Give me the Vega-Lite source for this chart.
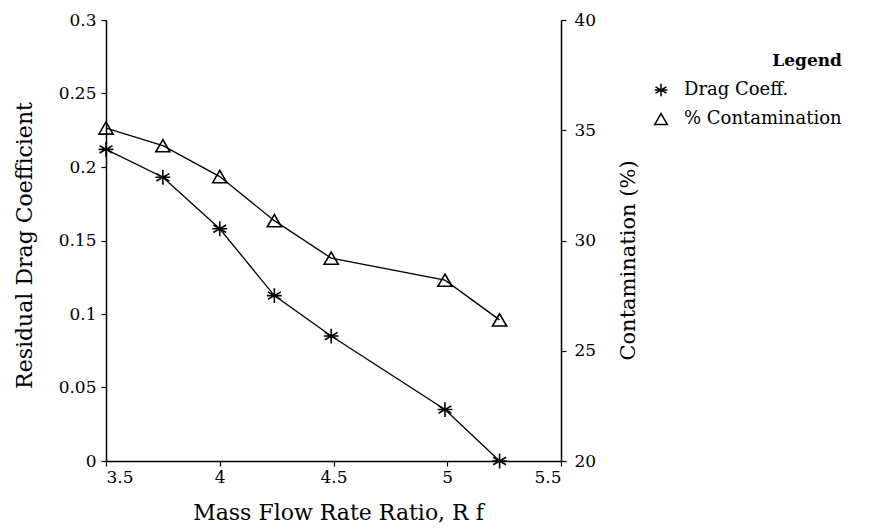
{
  "$schema": "https://vega.github.io/schema/vega-lite/v6.json",
  "autosize": "none",
  "width": 455,
  "height": 441,
  "padding": {"left": 106, "top": 20, "right": 312, "bottom": 71},
  "background": "white",
  "config": {
    "view": {"stroke": null},
    "font": "DejaVu Serif",
    "axis": {
      "grid": false,
      "domainColor": "black",
      "domainWidth": 1.5,
      "tickColor": "black",
      "tickWidth": 1.2,
      "tickSize": 5,
      "labelColor": "black",
      "labelFont": "DejaVu Serif",
      "labelFontSize": 17,
      "titleColor": "black",
      "titleFont": "DejaVu Serif",
      "titleFontSize": 21,
      "titleFontWeight": "normal"
    },
    "legend": {
      "labelFont": "DejaVu Serif",
      "labelFontSize": 18,
      "labelColor": "black",
      "titleFont": "DejaVu Serif",
      "titleFontSize": 17,
      "titleColor": "black",
      "titleFontWeight": "bold"
    }
  },
  "datasets": {
    "pts": [
      {"rf": 3.5, "drag": 0.212, "contam": 35.1, "s1": "Drag Coeff.", "s2": "% Contamination"},
      {"rf": 3.75, "drag": 0.193, "contam": 34.3, "s1": "Drag Coeff.", "s2": "% Contamination"},
      {"rf": 4.0, "drag": 0.158, "contam": 32.9, "s1": "Drag Coeff.", "s2": "% Contamination"},
      {"rf": 4.24, "drag": 0.1125, "contam": 30.9, "s1": "Drag Coeff.", "s2": "% Contamination"},
      {"rf": 4.49, "drag": 0.085, "contam": 29.2, "s1": "Drag Coeff.", "s2": "% Contamination"},
      {"rf": 4.99, "drag": 0.035, "contam": 28.2, "s1": "Drag Coeff.", "s2": "% Contamination"},
      {"rf": 5.23, "drag": 0.0, "contam": 26.4, "s1": "Drag Coeff.", "s2": "% Contamination"}
    ]
  },
  "data": {"name": "pts"},
  "encoding": {
    "x": {
      "field": "rf",
      "type": "quantitative",
      "scale": {"domain": [3.5, 5.5], "nice": false, "zero": false},
      "axis": {
        "values": [3.5, 4, 4.5, 5, 5.5],
        "format": "~g",
        "title": "Mass Flow Rate Ratio,  R f",
        "titleFontSize": 22,
        "titleX": 232,
        "titleY": 51,
        "titleAlign": "center",
        "titleBaseline": "middle",
        "labelPadding": 3
      }
    }
  },
  "layer": [
    {
      "layer": [
        {
          "mark": {"type": "line", "color": "black", "strokeWidth": 1.3},
          "encoding": {
            "y": {
              "field": "drag",
              "type": "quantitative",
              "scale": {"domain": [0, 0.3], "nice": false},
              "axis": {
                "orient": "left",
                "values": [0, 0.05, 0.1, 0.15, 0.2, 0.25, 0.3],
                "format": "~g",
                "title": "Residual Drag Coefficient",
                "titleFontSize": 22,
                "titleX": -82,
                "titleY": 225,
                "titleAngle": 270,
                "titleAlign": "center",
                "titleBaseline": "middle",
                "labelPadding": 5
              }
            }
          }
        },
        {
          "mark": {"type": "point", "filled": false, "stroke": "black", "strokeWidth": 1.6, "size": 220, "opacity": 1},
          "encoding": {
            "y": {"field": "drag", "type": "quantitative"},
            "shape": {
              "field": "s1",
              "type": "nominal",
              "scale": {
                "domain": ["Drag Coeff.", "% Contamination"],
                "range": ["M0,-1L0,1M-0.87,-0.5L0.87,0.5M-0.87,0.5L0.87,-0.5M-1,0L1,0", "triangle-up"]
              },
              "legend": {
                "title": "Legend",
                "orient": "none",
                "legendX": 546,
                "legendY": 33,
                "titleAnchor": "end",
                "padding": 0,
                "rowPadding": 10,
                "labelOffset": 14,
                "titlePadding": 11,
                "symbolStrokeColor": "black",
                "symbolStrokeWidth": 1.5,
                "symbolFillColor": "transparent",
                "symbolSize": 160
              }
            }
          }
        }
      ]
    },
    {
      "layer": [
        {
          "mark": {"type": "line", "color": "black", "strokeWidth": 1.3},
          "encoding": {
            "y": {
              "field": "contam",
              "type": "quantitative",
              "scale": {"domain": [20, 40], "nice": false, "zero": false},
              "axis": {
                "orient": "right",
                "values": [20, 25, 30, 35, 40],
                "title": "Contamination (%)",
                "titleX": 67,
                "titleY": 240,
                "titleAngle": 270,
                "titleAlign": "center",
                "titleBaseline": "middle",
                "labelPadding": 8
              }
            }
          }
        },
        {
          "mark": {"type": "point", "filled": false, "stroke": "black", "strokeWidth": 1.6, "size": 200, "opacity": 1},
          "encoding": {
            "y": {"field": "contam", "type": "quantitative"},
            "shape": {"field": "s2", "type": "nominal"}
          }
        }
      ]
    }
  ],
  "resolve": {"scale": {"y": "independent"}}
}
